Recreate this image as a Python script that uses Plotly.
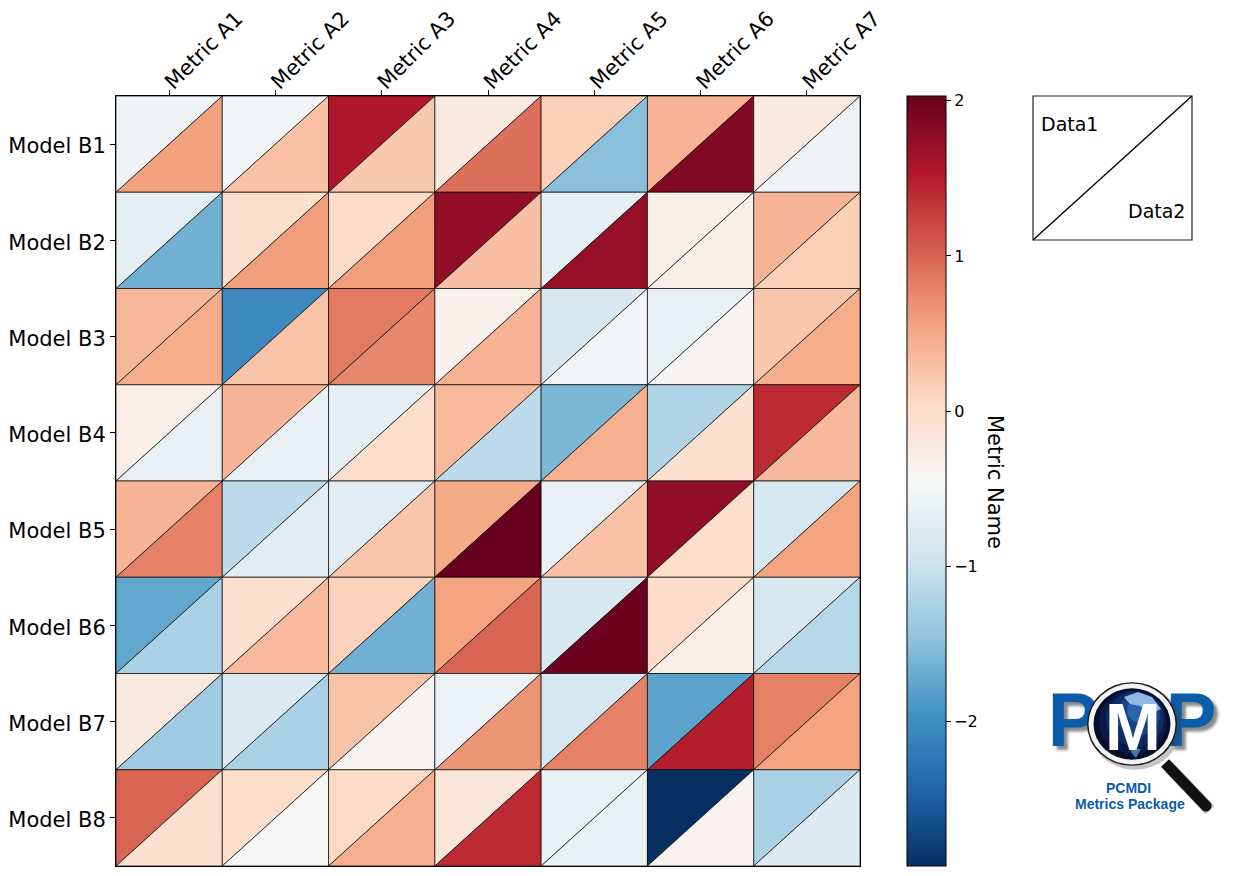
import plotly.graph_objects as go
from plotly.colors import get_colorscale, sample_colorscale

metrics = ["Metric A1", "Metric A2", "Metric A3", "Metric A4", "Metric A5", "Metric A6", "Metric A7"]
models = ["Model B1", "Model B2", "Model B3", "Model B4", "Model B5", "Model B6", "Model B7", "Model B8"]

data1 = [
    [-0.55, -0.52, 1.55, -0.20, 0.15, 0.42, -0.20],
    [-0.70, -0.02, 0.03, 1.75, -0.70, -0.30, 0.40],
    [0.38, -2.05, 0.85, -0.35, -0.85, -0.65, 0.23],
    [-0.30, 0.40, -0.68, 0.35, -1.58, -1.20, 1.40],
    [0.40, -1.10, -0.72, 0.50, -0.65, 1.75, -0.90],
    [-1.75, -0.05, 0.13, 0.55, -0.85, 0.02, -0.85],
    [-0.20, -0.80, 0.27, -0.60, -0.90, -1.78, 0.80],
    [1.00, 0.00, 0.05, -0.15, -0.65, -2.93, -1.25],
]
data2 = [
    [0.56, 0.28, 0.22, 0.92, -1.50, 1.85, -0.55],
    [-1.65, 0.60, 0.60, 0.30, 1.72, -0.30, 0.15],
    [0.47, 0.27, 0.75, 0.42, -0.52, -0.42, 0.47],
    [-0.65, -0.65, 0.00, -1.10, 0.45, -0.05, 0.36],
    [0.80, -0.72, 0.25, 2.03, 0.28, 0.00, 0.55],
    [-1.25, 0.35, -1.65, 1.00, 2.00, -0.30, -1.15],
    [-1.35, -1.25, -0.42, 0.65, 0.80, 1.50, 0.55],
    [-0.05, -0.45, 0.45, 1.40, -0.65, -0.38, -0.78],
]
vmin, vmax = -2.93, 2.03
cbar_ticks = [-2, -1, 0, 1, 2]
legend_labels = ["Data1", "Data2"]
logo_lines = ["PCMDI", "Metrics Package"]

W, H = 1236, 876
L, R, T, B = 116, 860, 96, 866
FONT = "DejaVu Sans"
scale = get_colorscale("RdBu_r")
BLUE = "#0b5cab"


def colour(v):
    return sample_colorscale(scale, [(v - vmin) / (vmax - vmin)])[0]


fig = go.Figure()


def tri(xs, ys, v):
    fig.add_trace(go.Scatter(
        x=xs + xs[:1], y=ys + ys[:1], mode="lines", fill="toself",
        fillcolor=colour(v), line=dict(color="black", width=0.7),
        hoverinfo="skip", showlegend=False, xaxis="x", yaxis="y"))


for i in range(len(models)):
    for j in range(len(metrics)):
        tri([j, j, j + 1], [i + 1, i, i], data1[i][j])
        tri([j, j + 1, j + 1], [i + 1, i, i + 1], data2[i][j])

# invisible carrier of the colour bar
fig.add_trace(go.Scatter(
    x=[j + 0.5 for r in data1 for j in range(len(r))],
    y=[i + 0.5 for i, r in enumerate(data1) for _ in r],
    mode="markers", hoverinfo="skip", showlegend=False,
    marker=dict(size=1, opacity=0, color=[v for r in data1 for v in r],
                colorscale=scale, cmin=vmin, cmax=vmax,
                colorbar=dict(
                    x=907 / W, xanchor="left", xpad=0, thickness=39,
                    y=1 - (T + B) / 2 / H, yanchor="middle", ypad=0,
                    len=(B - T) / H, lenmode="fraction",
                    tickmode="array", tickvals=cbar_ticks,
                    ticks="outside", ticklen=5, tickwidth=1, tickcolor="black",
                    tickfont=dict(family=FONT, size=16, color="black"),
                    outlinewidth=1, outlinecolor="black", borderwidth=0)),
))

# logo letters, under the lens (a trace, so the lens shapes sit above it)
fig.add_trace(go.Scatter(
    x=[1073, 1191], y=[727, 727], mode="text", text=["P", "P"],
    textposition="middle center",
    textfont=dict(family="Liberation Sans", size=76, color=BLUE, weight="bold",
                  shadow="4px 4px 3px rgba(40,40,40,0.55)"),
    hoverinfo="skip", showlegend=False, xaxis="x2", yaxis="y2"))

shapes = []


def circ(cx, cy, r, fill, line=None, lw=0, squash=0.93):
    shapes.append(dict(type="circle", xref="x2", yref="y2", x0=cx - r, x1=cx + r,
                       y0=cy - r * squash, y1=cy + r * squash, fillcolor=fill,
                       line=dict(color=line or fill, width=lw), layer="above"))


# legend box
shapes.append(dict(type="rect", xref="x2", yref="y2", x0=1033, x1=1192, y0=96, y1=240,
                   line=dict(color="#222222", width=1.2), layer="above"))
shapes.append(dict(type="line", xref="x2", yref="y2", x0=1033, x1=1192, y0=240, y1=96,
                   line=dict(color="black", width=1.4), layer="above"))

# lens handle and shadow
for dx, col, w in [(4, "rgba(70,70,70,0.35)", 12), (0, "#111111", 11)]:
    shapes.append(dict(type="line", xref="x2", yref="y2", x0=1165 + dx, y0=763 + dx,
                       x1=1206 + dx, y1=806 + dx, line=dict(color=col, width=w), layer="above"))
circ(1206, 806, 5.5, "#111111", squash=1)
circ(1135, 727, 46, "rgba(60,60,60,0.3)")
circ(1132, 724, 45, "#1a1a1a")
circ(1132, 724, 43.5, "#f4f4f4")
circ(1132, 724, 38.5, "#060d2a")
for r, c, cx, dy in [(34, "#0a1a48", 1133, -2), (29, "#0f2c66", 1135, -5), (22, "#174488", 1138, -9), (14, "#2a63aa", 1141, -14)]:
    circ(cx, 724 + dy, r, c)
# continents
shapes.append(dict(type="path", xref="x2", yref="y2", layer="above", fillcolor="#8fb8e0",
                   line=dict(width=0),
                   path="M 1124 697 L 1138 692 L 1152 697 L 1161 709 L 1150 714 L 1140 706 L 1130 704 Z"))
shapes.append(dict(type="path", xref="x2", yref="y2", layer="above", fillcolor="#3f74b4",
                   line=dict(width=0),
                   path="M 1130 748 L 1141 749 L 1136 758 L 1132 754 Z"))

ann = [
    dict(x=1039, y=124, text=legend_labels[0], xanchor="left", yanchor="middle", showarrow=False,
         xref="x2", yref="y2", font=dict(family=FONT, size=19, color="black")),
    dict(x=1187, y=211, text=legend_labels[1], xanchor="right", yanchor="middle", showarrow=False,
         xref="x2", yref="y2", font=dict(family=FONT, size=19, color="black")),
    dict(x=995, y=482, text="Metric Name", textangle=90, showarrow=False, xref="x2", yref="y2",
         font=dict(family=FONT, size=21, color="black")),
    dict(x=1133, y=726, text="<b>M</b>", showarrow=False, xref="x2", yref="y2",
         font=dict(family="Liberation Sans", size=67, color="white")),
    dict(x=1128, y=788, text="<b>%s</b>" % logo_lines[0], showarrow=False, xref="x2", yref="y2",
         font=dict(family="Liberation Sans", size=14, color=BLUE)),
    dict(x=1130, y=804, text="<b>%s</b>" % logo_lines[1], showarrow=False, xref="x2", yref="y2",
         font=dict(family="Liberation Sans", size=14, color=BLUE)),
]

fig.update_layout(
    width=W, height=H, margin=dict(l=0, r=0, t=0, b=0, autoexpand=False), autosize=False,
    paper_bgcolor="white", plot_bgcolor="rgba(0,0,0,0)", showlegend=False,
    shapes=shapes, annotations=ann,
    xaxis=dict(domain=[L / W, R / W], range=[0, len(metrics)], side="top", anchor="y",
               tickmode="array", tickvals=[j + 0.5 for j in range(len(metrics))], ticktext=metrics,
               tickangle=-45, ticks="outside", ticklen=5, tickwidth=1, tickcolor="black",
               ticklabelstandoff=-12, ticklabelshift=-3,
               tickfont=dict(family=FONT, size=21, color="black"),
               showgrid=False, zeroline=False, showline=True, linecolor="black", linewidth=1, mirror=True),
    yaxis=dict(domain=[1 - B / H, 1 - T / H], range=[len(models), 0], anchor="x",
               tickmode="array", tickvals=[i + 0.5 for i in range(len(models))], ticktext=models,
               ticks="outside", ticklen=5, tickwidth=1, tickcolor="black", ticklabelshift=-2,
               tickfont=dict(family=FONT, size=21, color="black"),
               showgrid=False, zeroline=False, showline=True, linecolor="black", linewidth=1, mirror=True),
    xaxis2=dict(domain=[0, 1], range=[0, W], visible=False, anchor="y2", fixedrange=True),
    yaxis2=dict(domain=[0, 1], range=[H, 0], visible=False, anchor="x2", fixedrange=True),
)

fig.write_html("out.html", config=dict(displayModeBar=False), post_script="document.body.style.margin='0';")
